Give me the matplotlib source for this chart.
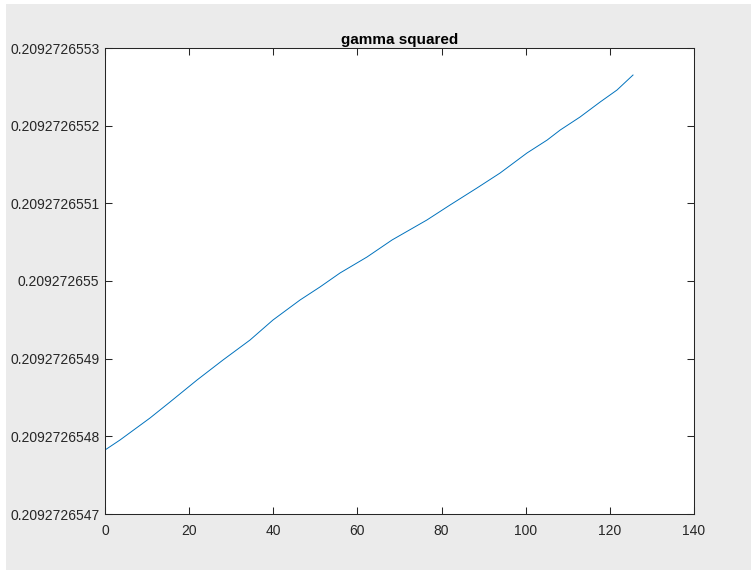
import matplotlib
matplotlib.use("Agg")
import matplotlib.pyplot as plt
from matplotlib.patches import Rectangle
from matplotlib.ticker import FixedLocator, FuncFormatter

# gamma^2 over the run (values read in steps)
step = [0.0, 3.57, 10.7, 15.45, 21.87, 28.05, 34.47, 39.93, 46.35, 51.1,
        55.86, 62.28, 68.22, 76.5, 82.0, 88.4, 93.9, 100.3, 105.1, 108.2,
        112.9, 117.7, 121.7, 125.5]
gamma_sq = [0.20927265478240, 0.20927265479530, 0.20927265482360, 0.20927265484420,
            0.20927265487250, 0.20927265489830, 0.20927265492400, 0.20927265494980,
            0.20927265497550, 0.20927265499230, 0.20927265501030, 0.20927265503090,
            0.20927265505280, 0.20927265507850, 0.20927265509780, 0.20927265511970,
            0.20927265513900, 0.20927265516480, 0.20927265518150, 0.20927265519440,
            0.20927265521110, 0.20927265523050, 0.20927265524590, 0.20927265526520]

x_ticks = [0, 20, 40, 60, 80, 100, 120, 140]
y_ticks = [0.2092726547, 0.2092726548, 0.2092726549, 0.2092726550,
           0.2092726551, 0.2092726552, 0.2092726553]

plt.rcParams['font.family'] = ['Liberation Sans', 'DejaVu Sans']

fig = plt.figure(figsize=(7.51, 5.71), dpi=100, facecolor='white')
# grey window background
fig.patches.append(Rectangle((6 / 751, 1 / 571), 1 - 6 / 751, 1 - 5 / 571,
                             transform=fig.transFigure, facecolor='#ebebeb',
                             edgecolor='none', zorder=-10))

ax = fig.add_axes([105 / 751, 1 - 514 / 571, 589 / 751, 466 / 571])
ax.plot(step, gamma_sq, color='#0072BD', linewidth=0.7)

ax.set_xlim(0, 140)
ax.set_ylim(y_ticks[0], y_ticks[-1])
ax.xaxis.set_major_locator(FixedLocator(x_ticks))
ax.yaxis.set_major_locator(FixedLocator(y_ticks))
ax.yaxis.set_major_formatter(FuncFormatter(lambda v, p: f'{v:.10f}'.rstrip('0')))

ax.tick_params(direction='in', length=5, width=0.75, color='#262626',
               labelcolor='#262626', labelsize=10, top=True, right=True)
ax.tick_params(axis='x', pad=7)
ax.tick_params(axis='y', pad=4)
for s in ax.spines.values():
    s.set_color('#262626')
    s.set_linewidth(0.75)

ax.set_title('gamma squared', fontsize=11, fontweight='bold', color='black', pad=3)

fig.savefig('out.png', dpi=100)
